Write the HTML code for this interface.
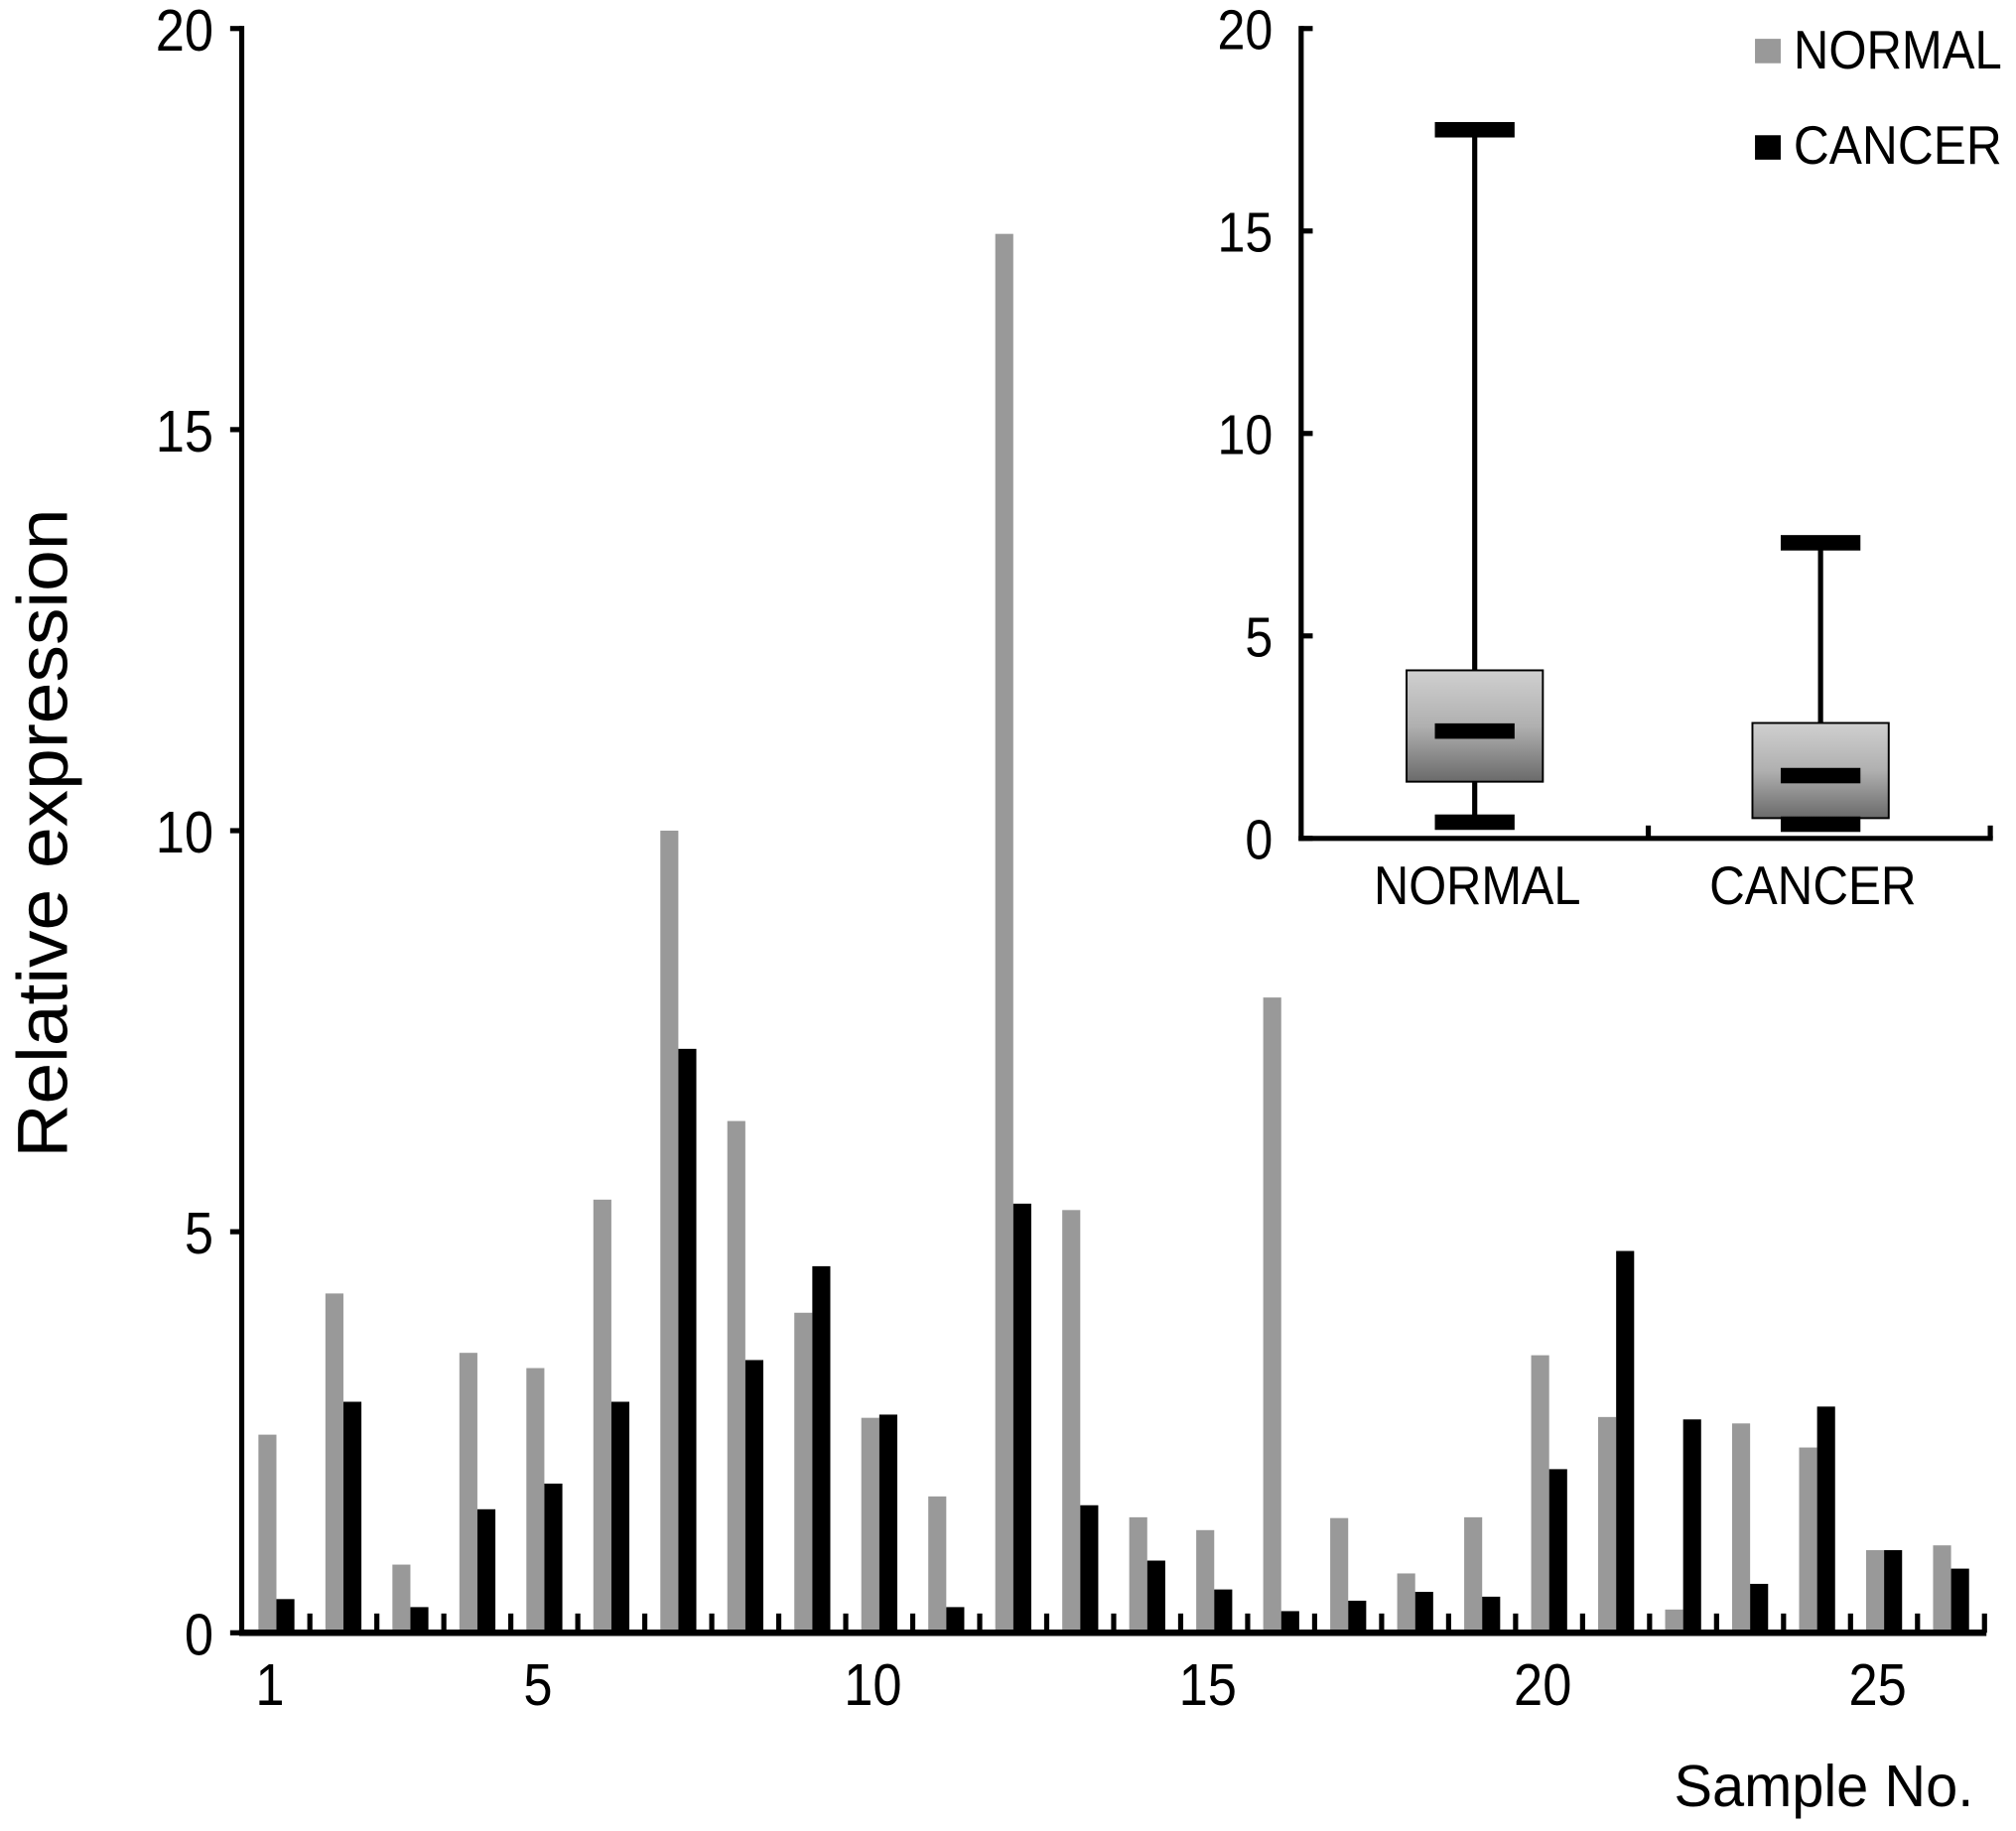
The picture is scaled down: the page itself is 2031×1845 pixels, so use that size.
<!DOCTYPE html>
<html><head><meta charset="utf-8"><style>
html,body{margin:0;padding:0;background:#fff;}
svg{display:block;}
text{font-family:"Liberation Sans",Arial,sans-serif;fill:#000;}
</style></head><body>
<svg id="chart" width="2031" height="1845" viewBox="0 0 1568 1424" xmlns="http://www.w3.org/2000/svg">
<defs>
<linearGradient id="boxg" x1="0" y1="0" x2="0" y2="1">
<stop offset="0" stop-color="#d0d0d0"/><stop offset="0.5" stop-color="#b0b0b0"/><stop offset="1" stop-color="#6a6a6a"/>
</linearGradient>
</defs>
<g id="main"></g>
<g id="inset"></g>
</svg>
<script>
const samples = [1,2,3,4,5,6,7,8,9,10,11,12,13,14,15,16,17,18,19,20,21,22,23,24,25,26];
const normalValues = [2.47,4.23,0.85,3.49,3.30,5.40,10.0,6.38,3.99,2.68,1.70,17.44,5.27,1.44,1.28,7.92,1.43,0.74,1.44,3.46,2.69,0.29,2.61,2.31,1.03,1.09];
const cancerValues = [0.42,2.88,0.32,1.54,1.86,2.88,7.28,3.40,4.57,2.72,0.32,5.35,1.59,0.90,0.54,0.27,0.40,0.51,0.45,2.04,4.76,2.66,0.61,2.82,1.03,0.80];
const yTicks = [0,5,10,15,20];
const xTickLabels = [1,5,10,15,20,25];
const boxGroups = ["NORMAL","CANCER"];
const boxMin = [0.4,0.35];
const boxQ1 = [1.4,0.5];
const boxMedian = [2.65,1.55];
const boxQ3 = [4.15,2.85];
const boxMax = [17.5,7.3];
const insetTicks = [0,5,10,15,20];

const NS="http://www.w3.org/2000/svg";
function mk(parent,tag,attrs,txt){const e=document.createElementNS(NS,tag);for(const k in attrs)e.setAttribute(k,attrs[k]);if(txt!==undefined)e.textContent=txt;parent.appendChild(e);return e;}
// narrow text: placed at (x,y) and horizontally compressed
function ntext(parent,x,y,size,anchor,str,sx){
  return mk(parent,'text',{x:0,y:0,'font-size':size,'text-anchor':anchor,transform:'translate('+x+','+y+') scale('+(sx||0.88)+',1)'},str);
}

const main=document.getElementById('main');
const y0=1270, yTop=22, x0=188, step=52.1;
const yS=v=>y0-(v/20)*(y0-yTop);
const gx=i=>x0+(i)*step;
const yAxis=mk(main,'line',{x1:x0,y1:yTop-2,x2:x0,y2:y0+2,stroke:'#000','stroke-width':4});


yTicks.forEach(t=>{
  const tk=mk(main,'line',{x1:x0-9,y1:yS(t),x2:x0,y2:yS(t),stroke:'#000','stroke-width':4});
  
  
  const lb=ntext(main,x0-22,yS(t)+17,46,'end',String(t));
  
  
});
samples.forEach((s,i)=>{
  const L=gx(i);
  const g=mk(main,'rect',{x:L+13,y:yS(normalValues[i]),width:14,height:y0-yS(normalValues[i]),fill:'#999'});
  
  
  const b=mk(main,'rect',{x:L+27,y:yS(cancerValues[i]),width:14,height:y0-yS(cancerValues[i]),fill:'#000'});
  
  
  const tk=mk(main,'line',{x1:L+53,y1:y0-15,x2:L+53,y2:y0,stroke:'#000','stroke-width':4});
  
  
});
const xAxis=mk(main,'line',{x1:x0-2,y1:y0,x2:1545,y2:y0,stroke:'#000','stroke-width':5});


xTickLabels.forEach(s=>{
  const lb=ntext(main,gx(s-1)+22,1326,46,'middle',String(s));
  
  
});
const yt=mk(main,'text',{x:0,y:0,'font-size':55,'text-anchor':'middle',textLength:505,lengthAdjust:'spacingAndGlyphs',transform:'translate(52,648) rotate(-90)'},'Relative expression');


const xt=mk(main,'text',{x:1535,y:1405,'font-size':46,'text-anchor':'end',textLength:233,lengthAdjust:'spacingAndGlyphs'},'Sample No.');



// inset
const ins=document.getElementById('inset');
const iy0=652, iyTop=22, ix0=1012, ix1=1550;
const iS=v=>iy0-(v/20)*(iy0-iyTop);
const centers=[1147,1416];
const labelCenters=[1149,1410];
const iy=mk(ins,'line',{x1:ix0,y1:iyTop-2,x2:ix0,y2:iy0+2,stroke:'#000','stroke-width':4});


insetTicks.forEach(t=>{
  const tk=mk(ins,'line',{x1:ix0,y1:iS(t),x2:ix0+9,y2:iS(t),stroke:'#000','stroke-width':4});
  
  
  const lb=ntext(ins,ix0-22,iS(t)+16,44,'end',String(t));
  
  
});
const ix=mk(ins,'line',{x1:ix0-2,y1:iy0,x2:ix1,y2:iy0,stroke:'#000','stroke-width':4});


[1282,ix1-2].forEach(x=>{
  const tk=mk(ins,'line',{x1:x,y1:iy0-10,x2:x,y2:iy0,stroke:'#000','stroke-width':4});
  
  
});
boxGroups.forEach((gname,i)=>{
  const c=centers[i];
  const w=mk(ins,'line',{x1:c,y1:iS(boxMax[i]),x2:c,y2:iS(boxMin[i]),stroke:'#000','stroke-width':4});
  
  
  const bx=mk(ins,'rect',{x:c-53,y:iS(boxQ3[i]),width:106,height:iS(boxQ1[i])-iS(boxQ3[i]),fill:'url(#boxg)',stroke:'#000','stroke-width':1.5});
  
  
  [boxMax[i],boxMin[i],boxMedian[i]].forEach((v,k)=>{
    const cap=mk(ins,'rect',{x:c-31,y:iS(v)-6,width:62,height:12,fill:'#000'});
    
    
  });
  const lb=mk(ins,'text',{x:labelCenters[i],y:703,'font-size':42,'text-anchor':'middle',textLength:161,lengthAdjust:'spacingAndGlyphs'},gname);
  
  
});
// legend
[['NORMAL','#999',30,53],['CANCER','#000',105,127]].forEach(([n,col,ry,ty])=>{
  const sw=mk(ins,'rect',{x:1365,y:ry,width:20,height:19,fill:col});
  
  
  const t=mk(ins,'text',{x:1395,y:ty,'font-size':42,textLength:162,lengthAdjust:'spacingAndGlyphs'},n);
  
  
});
</script>
</body></html>
